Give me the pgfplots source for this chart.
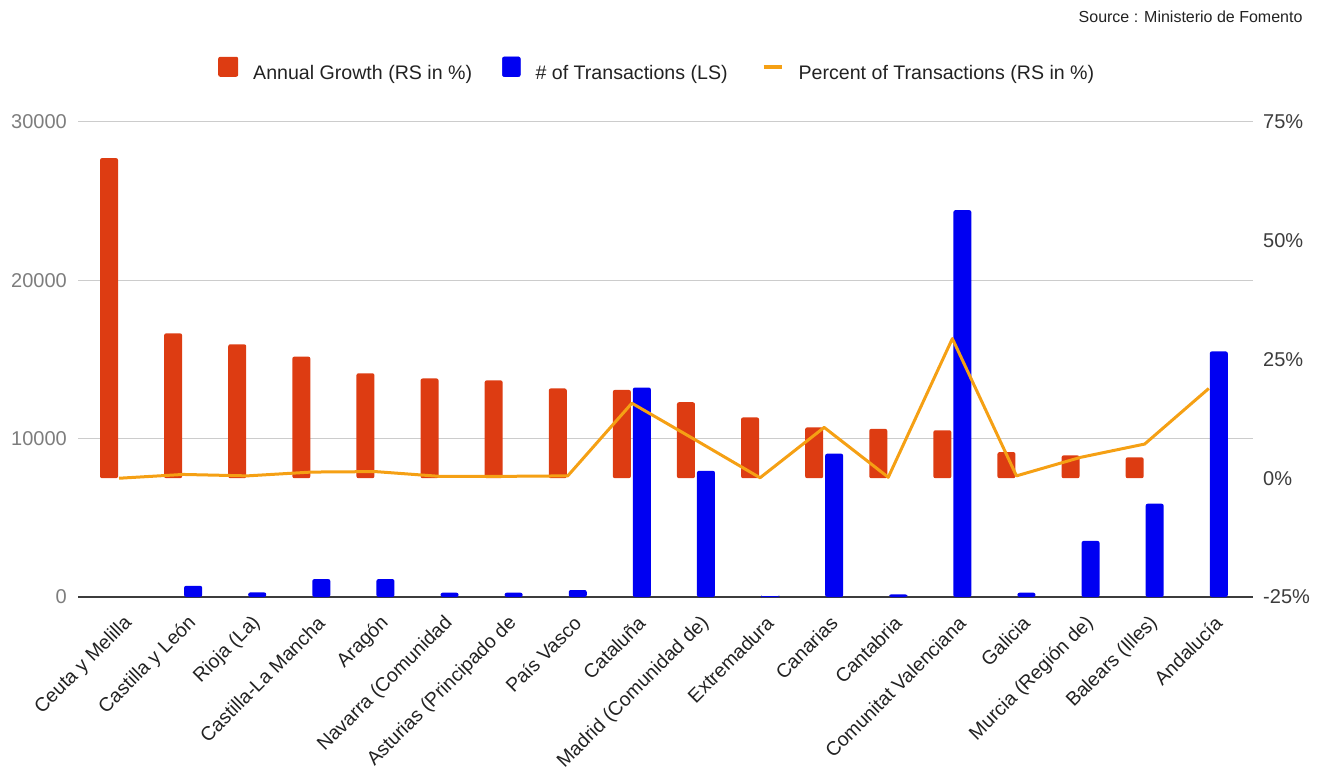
\documentclass[border=0pt]{standalone}
\usepackage{fontspec}
\setmainfont{Liberation Sans}
\usepackage{pgfplots}
\usepackage{pgfplotstable}
\pgfplotsset{compat=1.18}

\definecolor{growthred}{RGB}{221,60,18}
\definecolor{transblue}{RGB}{0,0,242}
\definecolor{pctorange}{RGB}{245,160,20}
\definecolor{gridgray}{RGB}{204,204,204}
\definecolor{baseline}{RGB}{60,60,60}
\definecolor{lefttick}{RGB}{125,125,125}
\definecolor{righttick}{RGB}{60,60,60}
\definecolor{labeltext}{RGB}{34,34,34}

% idx: region position, trans: number of transactions (left scale),
% growth: annual growth in % (right scale), pct: share of transactions in % (right scale)
\pgfplotstableread{
idx trans growth pct
0   0     67.4  0.0
1   710   30.5  0.8
2   290   28.2  0.5
3   1130  25.6  1.3
4   1130  22.1  1.4
5   270   21.0  0.4
6   270   20.6  0.4
7   440   18.9  0.5
8   13230 18.6  15.8
9   7970  16.0  8.0
10  60    12.8  0.1
11  9050  10.7  10.7
12  170   10.4  0.2
13  24430 10.1  29.4
14  270   5.5   0.5
15  3540  4.8   4.4
16  5890  4.4   7.2
17  15510 0.0   18.9
}\regiondata

\newcommand{\mainsize}{\fontsize{19.6bp}{23bp}\selectfont}
\newcommand{\ticksize}{\fontsize{20bp}{23bp}\selectfont}
\newcommand{\labelsize}{\fontsize{19.5bp}{22bp}\selectfont}

\begin{document}
\begin{tikzpicture}
\useasboundingbox (0,0) rectangle (1320bp,777bp);

\pgfplotsset{
  frame/.style={
    at={(78bp,180bp)}, anchor=south west,
    scale only axis, width=1175bp, height=475bp,
    xmin=-0.64, xmax=17.69,
    major tick length=0pt,
    axis line style={draw=none},
    /pgf/number format/assume math mode=true,
    tick label style={font=\ticksize},
    clip=false,
  },
  % empty bars (value 0) are left out
  skip zero/.style={y filter/.expression={y==0 ? nan : y}},
}

% left scale: number of transactions
\begin{axis}[frame,
  ymin=0, ymax=30000,
  ytick={10000,20000,30000},
  extra y ticks={0},
  extra y tick style={grid style={draw=baseline, line width=1.3bp}},
  ymajorgrids, grid style={draw=gridgray, line width=1bp},
  scaled y ticks=false,
  yticklabel style={/pgf/number format/1000 sep={}, text=lefttick, anchor=east, inner sep=0pt, xshift=-11bp},
  xtick={0,...,17},
  xticklabels={{Ceuta y Melilla},{Castilla y León},{Rioja (La)},{Castilla-La Mancha},{Aragón},
    {Navarra (Comunidad},{Asturias (Principado de},{País Vasco},{Cataluña},{Madrid (Comunidad de)},
    {Extremadura},{Canarias},{Cantabria},{Comunitat Valenciana},{Galicia},{Murcia (Región de)},
    {Balears (Illes)},{Andalucía}},
  xticklabel style={font=\labelsize, xshift=10bp, yshift=-23bp, rotate=45, anchor=east, inner sep=0pt, text=labeltext},
]
\addplot[ybar, bar width=18bp, bar shift=10bp, fill=transblue, draw=none, rounded corners=2bp, skip zero]
  table[x=idx, y=trans] {\regiondata};
\end{axis}

% right scale: percentages
\begin{axis}[frame,
  ymin=-25, ymax=75,
  ytick={-25,0,25,50,75},
  axis y line*=right, axis x line=none, xtick=\empty,
  yticklabel={\pgfmathprintnumber{\tick}\%},
  yticklabel style={text=righttick, anchor=west, inner sep=0pt, xshift=10bp},
  legend columns=-1,
  legend style={at={(0.11915,1.1116)}, anchor=west, draw=none, fill=none,
    font=\mainsize, text=labeltext, inner sep=0pt, nodes={inner sep=0pt},
    /tikz/every odd column/.append style={column sep=15bp},
    /tikz/every even column/.append style={column sep=30bp}},
]
\addplot[ybar, bar width=18bp, bar shift=-10bp, fill=growthred, draw=none, rounded corners=2bp, skip zero,
  legend image code/.code={\fill[growthred, rounded corners=2bp] (0bp,-3.2bp) rectangle (20bp,16.8bp);}]
  table[x=idx, y=growth] {\regiondata};
\addlegendentry{Annual Growth (RS in \%)}
\addlegendimage{legend image code/.code={\fill[transblue, rounded corners=2bp] (0bp,-3.2bp) rectangle (18bp,16.8bp);}}
\addlegendentry{\# of Transactions (LS)}
\addplot[pctorange, line width=3bp, mark=none, sharp plot, line join=round,
  legend image code/.code={\path[draw=none, fill=none] (0bp,6.8bp) -- (6bp,6.8bp); \draw[pctorange, line width=4bp] (6bp,6.8bp) -- (24bp,6.8bp);}]
  table[x=idx, y=pct] {\regiondata};
\addlegendentry{Percent of Transactions (RS in \%)}
\end{axis}

\node[anchor=east, font=\fontsize{16bp}{19bp}\selectfont, text=labeltext] at (1306bp,760bp)
  {Source : Ministerio de Fomento};
\end{tikzpicture}
\end{document}
